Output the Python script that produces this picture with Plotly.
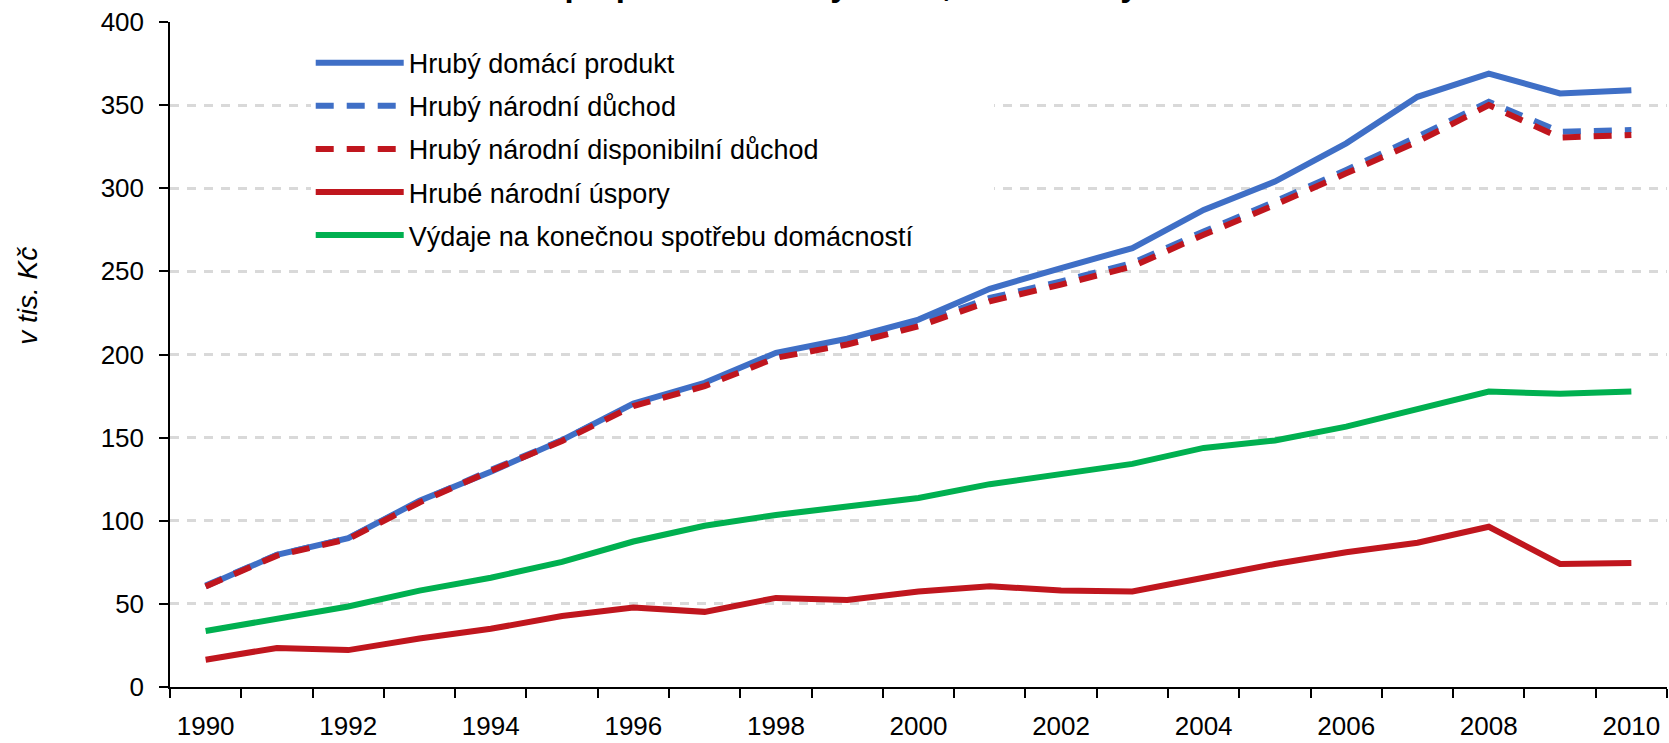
import plotly.graph_objects as go

years = list(range(1990, 2011))

hdp = [60.6, 79.5, 89.5, 112, 129.5, 148.5, 170.5, 183, 201, 209.5, 221, 239.5, 252, 264, 287, 304, 327, 355, 369, 357, 359]
hnd = [61, 79.5, 89.5, 111.5, 130.5, 148.5, 170, 182, 199, 207, 218.5, 234, 244, 255, 274, 292, 311, 331, 352, 334, 335]
hndd = [60.5, 79, 89, 111, 130, 148, 169, 181, 198, 206, 217, 232, 242, 253, 272, 290, 309, 328, 350, 330.5, 332]
uspory = [16.4, 23.5, 22.2, 29.2, 35, 42.7, 47.8, 45.2, 53.6, 52.3, 57.4, 60.6, 58, 57.4, 65.7, 74, 81.1, 86.8, 96.4, 74, 74.6]
spotreba = [33.7, 41.4, 48.4, 58, 65.7, 75.3, 87.5, 97, 103.5, 108.6, 113.7, 122, 127.8, 134.2, 143.8, 148.3, 156.6, 166.8, 177.7, 176.4, 177.7]

names = ["Hrubý domácí produkt", "Hrubý národní důchod", "Hrubý národní disponibilní důchod",
         "Hrubé národní úspory", "Výdaje na konečnou spotřebu domácností"]
xlabels = [str(y) for y in range(1990, 2011, 2)]

BLUE = "#3f6fc6"
RED = "#c0161e"
GREEN = "#00b050"
FONT = "Arial, Liberation Sans, sans-serif"

fig = go.Figure()
series = [
    (hdp, BLUE, "solid"),
    (hnd, BLUE, "18px,13px"),
    (hndd, RED, "18px,13px"),
    (uspory, RED, "solid"),
    (spotreba, GREEN, "solid"),
]
for i, (vals, col, dash) in enumerate(series):
    # padding so the white legend box is as wide as in the original
    label = names[i] + ("\u00a0" * 10 if i == 4 else "")
    fig.add_trace(go.Scatter(x=years, y=vals, mode="lines", name=label,
                             legendgroup=str(i),
                             line=dict(color=col, width=6, dash=dash)))

fig.update_layout(
    width=1669, height=743,
    margin=dict(l=170, r=2, t=22, b=56),
    plot_bgcolor="white", paper_bgcolor="white",
    font=dict(family=FONT, size=26, color="black"),
    showlegend=True,
    legend=dict(x=0.094, y=0.975, xanchor="left", yanchor="top", itemwidth=88,
                font=dict(size=27), tracegroupgap=5, bgcolor="white"),
)

fig.update_xaxes(
    range=[1989.5, 2010.5], automargin=False,
    tickvals=list(range(1990, 2011, 2)), ticktext=xlabels,
    ticks="", showgrid=False, zeroline=False,
    showline=True, linecolor="black", linewidth=1.5,
    minor=dict(ticks="outside", ticklen=9, tickcolor="black", tickwidth=1.5,
               tick0=1989.5, dtick=1, showgrid=False),
    ticklabelstandoff=15,
)
fig.update_yaxes(
    range=[0, 400], dtick=50, automargin=False,
    ticks="outside", ticklen=9, tickcolor="black", tickwidth=1.5,
    showline=True, linecolor="black", linewidth=1.5,
    showgrid=True, gridcolor="#d9d9d9", gridwidth=2.5, griddash="9px,8px",
    zeroline=False, ticklabelstandoff=10,
)

fig.add_annotation(text="<i>v tis. Kč</i>", textangle=-90, xref="paper", yref="paper",
                   x=-0.095, y=0.588, xanchor="center", yanchor="middle",
                   showarrow=False, font=dict(size=28, family=FONT))
# chart title, cut off by the top edge as in the original
fig.add_annotation(text="<b>v přepočtu na 1 obyvatele, běžné ceny</b>",
                   xref="paper", yref="paper", x=0.446, y=1.025,
                   xanchor="center", yanchor="bottom",
                   showarrow=False, font=dict(size=33, family=FONT))

fig.write_html("out.html", config={"displayModeBar": False},
               post_script="document.body.style.margin='0';")
